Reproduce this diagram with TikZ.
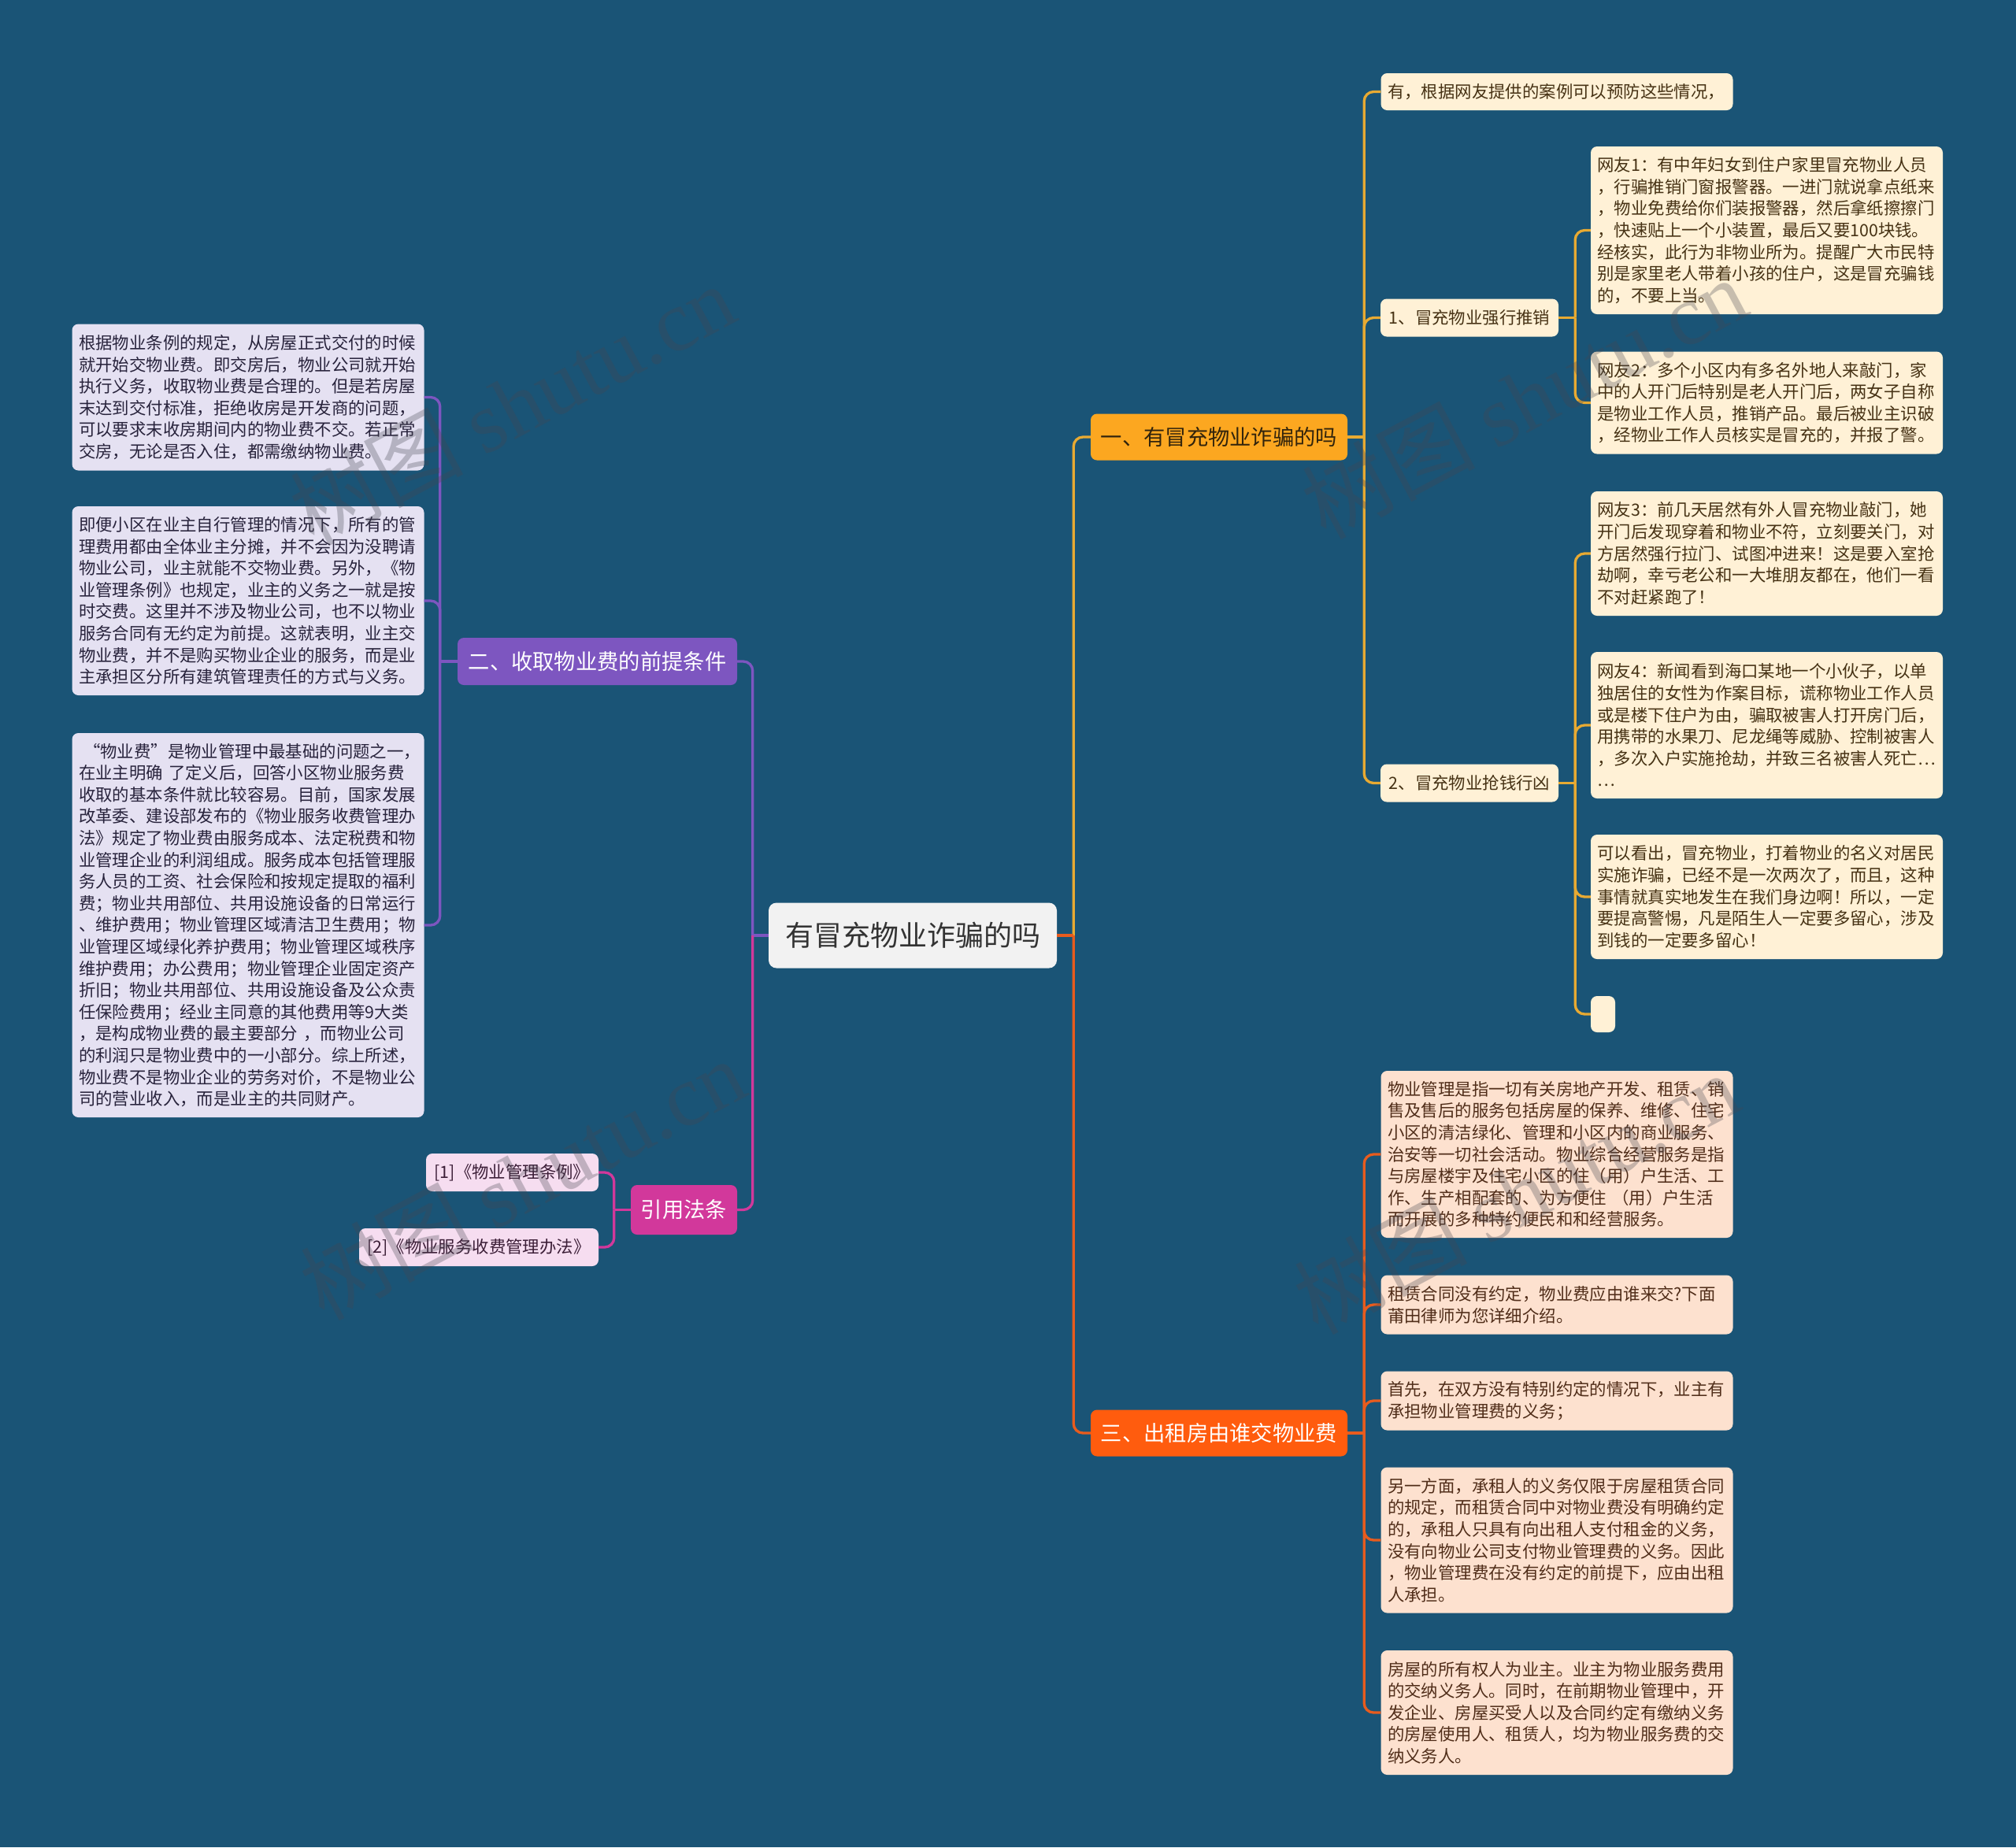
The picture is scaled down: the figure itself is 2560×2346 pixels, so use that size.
\documentclass[tikz,border=0pt]{standalone}
\usepackage{fontspec}
\setmainfont{Noto Sans CJK SC}
\newfontfamily\wmlatin{Liberation Serif}

\definecolor{bg}{RGB}{26,84,118}
\definecolor{rootfill}{RGB}{242,242,242}
\definecolor{rootink}{RGB}{51,51,51}
\definecolor{orA}{RGB}{252,167,32}
\definecolor{lineA}{RGB}{232,170,50}
\definecolor{orB}{RGB}{255,92,14}
\definecolor{lineB}{RGB}{232,92,30}
\definecolor{pur}{RGB}{125,86,192}
\definecolor{mag}{RGB}{210,56,155}
\definecolor{cream}{RGB}{255,241,214}
\definecolor{creamink}{RGB}{70,50,20}
\definecolor{peach}{RGB}{253,225,207}
\definecolor{peachink}{RGB}{80,45,25}
\definecolor{lav}{RGB}{229,225,242}
\definecolor{lavink}{RGB}{40,35,60}
\definecolor{pink}{RGB}{246,221,240}
\definecolor{pinkink}{RGB}{60,30,55}
\definecolor{secink}{RGB}{50,36,12}
\definecolor{wmgray}{RGB}{70,70,80}

\begin{document}
\begin{tikzpicture}[x=1pt,y=-1pt,
  rootbox/.style={fill=rootfill, text=rootink, rounded corners=10pt, inner sep=0pt,
    minimum width=366pt, minimum height=83pt, font=\fontsize{36}{40}\selectfont},
  secbox/.style={rounded corners=8pt, inner sep=0pt, minimum width=326pt,
    minimum height=59pt, font=\fontsize{27.3}{30}\selectfont},
  tag/.style={rounded corners=8pt, inner sep=0pt, minimum height=48pt,
    font=\fontsize{21.4}{27.6}\selectfont},
  leaf/.style={rounded corners=8pt, text width=430pt, inner xsep=8.5pt, inner ysep=0pt,
    align=left, font=\fontsize{21.4}{27.6}\selectfont},
  wire/.style={line width=3.3pt},
  elbow/.style={wire, rounded corners=12pt},
  wm/.style={rotate=28, text=wmgray, text opacity=0.3, font=\fontsize{110}{110}\selectfont}
]
\useasboundingbox (0,0) rectangle (2560,2346);
\fill[bg] (0,0) rectangle (2560,2346);

\node[rootbox] (root) at (1159,1188) {有冒充物业诈骗的吗};

\node[secbox, fill=orA, text=secink] (s1) at (1548,555) {一、有冒充物业诈骗的吗};
\node[secbox, fill=orB, text=white] (s3) at (1548,1820) {三、出租房由谁交物业费};
\node[secbox, fill=pur, text=white, minimum width=355pt, minimum height=60pt] (s2) at (758.5,840) {二、收取物业费的前提条件};
\node[secbox, fill=mag, text=white, minimum width=135pt, minimum height=63pt] (s4) at (868.5,1536.5) {引用法条};

% branch one
\node[leaf, fill=cream, text=creamink, minimum height=47pt] (a0) at (1977,116.5) {有，根据网友提供的案例可以预防这些情况，};
\node[tag, fill=cream, text=creamink, minimum width=226pt] (a1) at (1866,403.5) {1、冒充物业强行推销};
\node[tag, fill=cream, text=creamink, minimum width=226pt] (a2) at (1866,994.5) {2、冒充物业抢钱行凶};

\node[leaf, fill=cream, text=creamink, minimum height=213pt] (a11) at (2243.5,292.5) {网友1：有中年妇女到住户家里冒充物业人员\\
，行骗推销门窗报警器。一进门就说拿点纸来\\
，物业免费给你们装报警器，然后拿纸擦擦门\\
，快速贴上一个小装置，最后又要100块钱。\\
经核实，此行为非物业所为。提醒广大市民特\\
别是家里老人带着小孩的住户，这是冒充骗钱\\
的，不要上当。};
\node[leaf, fill=cream, text=creamink, minimum height=130pt] (a12) at (2243.5,511.5) {网友2：多个小区内有多名外地人来敲门，家\\
中的人开门后特别是老人开门后，两女子自称\\
是物业工作人员，推销产品。最后被业主识破\\
，经物业工作人员核实是冒充的，并报了警。};
\node[leaf, fill=cream, text=creamink, minimum height=158pt] (a21) at (2243.5,703) {网友3：前几天居然有外人冒充物业敲门，她\\
开门后发现穿着和物业不符，立刻要关门，对\\
方居然强行拉门、试图冲进来！这是要入室抢\\
劫啊，幸亏老公和一大堆朋友都在，他们一看\\
不对赶紧跑了！};
\node[leaf, fill=cream, text=creamink, minimum height=186pt] (a22) at (2243.5,921) {网友4：新闻看到海口某地一个小伙子，以单\\
独居住的女性为作案目标，谎称物业工作人员\\
或是楼下住户为由，骗取被害人打开房门后，\\
用携带的水果刀、尼龙绳等威胁、控制被害人\\
，多次入户实施抢劫，并致三名被害人死亡…\\
…};
\node[leaf, fill=cream, text=creamink, minimum height=158pt] (a23) at (2243.5,1139) {可以看出，冒充物业，打着物业的名义对居民\\
实施诈骗，已经不是一次两次了，而且，这种\\
事情就真实地发生在我们身边啊！所以，一定\\
要提高警惕，凡是陌生人一定要多留心，涉及\\
到钱的一定要多留心！};
\node[fill=cream, rounded corners=8pt, minimum width=31pt, minimum height=46pt, inner sep=0pt] (a24) at (2035.5,1288) {};

% branch three
\node[leaf, fill=peach, text=peachink, minimum height=212pt] (c1) at (1977,1466) {物业管理是指一切有关房地产开发、租赁、销\\
售及售后的服务包括房屋的保养、维修、住宅\\
小区的清洁绿化、管理和小区内的商业服务、\\
治安等一切社会活动。物业综合经营服务是指\\
与房屋楼宇及住宅小区的住（用）户生活、工\\
作、生产相配套的、为方便住 （用）户生活\\
而开展的多种特约便民和和经营服务。};
\node[leaf, fill=peach, text=peachink, minimum height=75pt] (c2) at (1977,1657) {租赁合同没有约定，物业费应由谁来交?下面\\
莆田律师为您详细介绍。};
\node[leaf, fill=peach, text=peachink, minimum height=75pt] (c3) at (1977,1779) {首先，在双方没有特别约定的情况下，业主有\\
承担物业管理费的义务；};
\node[leaf, fill=peach, text=peachink, minimum height=185pt] (c4) at (1977,1956) {另一方面，承租人的义务仅限于房屋租赁合同\\
的规定，而租赁合同中对物业费没有明确约定\\
的，承租人只具有向出租人支付租金的义务，\\
没有向物业公司支付物业管理费的义务。因此\\
，物业管理费在没有约定的前提下，应由出租\\
人承担。};
\node[leaf, fill=peach, text=peachink, minimum height=158pt] (c5) at (1977,2175) {房屋的所有权人为业主。业主为物业服务费用\\
的交纳义务人。同时，在前期物业管理中，开\\
发企业、房屋买受人以及合同约定有缴纳义务\\
的房屋使用人、租赁人，均为物业服务费的交\\
纳义务人。};

% branch two
\node[leaf, fill=lav, text=lavink, minimum height=186pt] (b1) at (315,504.5) {根据物业条例的规定，从房屋正式交付的时候\\
就开始交物业费。即交房后，物业公司就开始\\
执行义务，收取物业费是合理的。但是若房屋\\
末达到交付标准，拒绝收房是开发商的问题，\\
可以要求末收房期间内的物业费不交。若正常\\
交房，无论是否入住，都需缴纳物业费。};
\node[leaf, fill=lav, text=lavink, minimum height=240pt] (b2) at (315,763) {即便小区在业主自行管理的情况下，所有的管\\
理费用都由全体业主分摊，并不会因为没聘请\\
物业公司，业主就能不交物业费。另外，《物\\
业管理条例》也规定，业主的义务之一就是按\\
时交费。这里并不涉及物业公司，也不以物业\\
服务合同有无约定为前提。这就表明，业主交\\
物业费，并不是购买物业企业的服务，而是业\\
主承担区分所有建筑管理责任的方式与义务。};
\node[leaf, fill=lav, text=lavink, minimum height=488pt] (b3) at (315,1175) {\hspace{6pt}“物业费”是物业管理中最基础的问题之一，\\
在业主明确 了定义后，回答小区物业服务费\\
收取的基本条件就比较容易。目前，国家发展\\
改革委、建设部发布的《物业服务收费管理办\\
法》规定了物业费由服务成本、法定税费和物\\
业管理企业的利润组成。服务成本包括管理服\\
务人员的工资、社会保险和按规定提取的福利\\
费；物业共用部位、共用设施设备的日常运行\\
、维护费用；物业管理区域清洁卫生费用；物\\
业管理区域绿化养护费用；物业管理区域秩序\\
维护费用；办公费用；物业管理企业固定资产\\
折旧；物业共用部位、共用设施设备及公众责\\
任保险费用；经业主同意的其他费用等9大类\\
，是构成物业费的最主要部分 ，而物业公司\\
的利润只是物业费中的一小部分。综上所述，\\
物业费不是物业企业的劳务对价，不是物业公\\
司的营业收入，而是业主的共同财产。};

% branch four
\node[tag, fill=pink, text=pinkink, minimum width=219pt] (d1) at (650.5,1489) {[1]《物业管理条例》};
\node[tag, fill=pink, text=pinkink, minimum width=304pt] (d2) at (608,1584) {[2]《物业服务收费管理办法》};

% connectors
\path[draw=lineA,wire] (root.east) -- ++(21,0) coordinate (ra);
\path[draw=lineA,elbow] (ra) |- (s1.west);
\path[draw=lineB,wire] (root.east) -- (ra);
\path[draw=lineB,elbow] (ra) |- (s3.west);
\path[draw=pur,wire] (root.west) -- ++(-20,0) coordinate (rb);
\path[draw=pur,elbow] (rb) |- (s2.east);
\path[draw=mag,elbow] (rb) |- (s4.east);

\path[draw=lineA,wire] (s1.east) -- ++(21,0) coordinate (ta);
\path[draw=lineA,elbow] (ta) |- (a0.west);
\path[draw=lineA,elbow] (ta) |- (a1.west);
\path[draw=lineA,elbow] (ta) |- (a2.west);

\path[draw=lineA,wire] (a1.east) -- ++(21,0) coordinate (ta1);
\path[draw=lineA,elbow] (ta1) |- (a11.west);
\path[draw=lineA,elbow] (ta1) |- (a12.west);

\path[draw=lineA,wire] (a2.east) -- ++(21,0) coordinate (ta2);
\path[draw=lineA,elbow] (ta2) |- (a21.west);
\path[draw=lineA,elbow] (ta2) |- (a22.west);
\path[draw=lineA,elbow] (ta2) |- (a23.west);
\path[draw=lineA,elbow] (ta2) |- (a24.west);

\path[draw=lineB,wire] (s3.east) -- ++(21,0) coordinate (tc);
\path[draw=lineB,elbow] (tc) |- (c1.west);
\path[draw=lineB,elbow] (tc) |- (c2.west);
\path[draw=lineB,elbow] (tc) |- (c3.west);
\path[draw=lineB,elbow] (tc) |- (c4.west);
\path[draw=lineB,elbow] (tc) |- (c5.west);

\path[draw=pur,wire] (s2.west) -- ++(-22,0) coordinate (tb);
\path[draw=pur,elbow] (tb) |- (b1.east);
\path[draw=pur,elbow] (tb) |- (b2.east);
\path[draw=pur,elbow] (tb) |- (b3.east);

\path[draw=mag,wire] (s4.west) -- ++(-21,0) coordinate (td);
\path[draw=mag,elbow] (td) |- (d1.east);
\path[draw=mag,elbow] (td) |- (d2.east);

% watermarks
\node[wm] (wm1) at (650,513) {树图 {\wmlatin shutu.cn}};
\node[wm] (wm2) at (663,1497) {树图 {\wmlatin shutu.cn}};
\node[wm] (wm3) at (1935,505) {树图 {\wmlatin shutu.cn}};
\node[wm] (wm4) at (1925,1515) {树图 {\wmlatin shutu.cn}};
\end{tikzpicture}
\end{document}
